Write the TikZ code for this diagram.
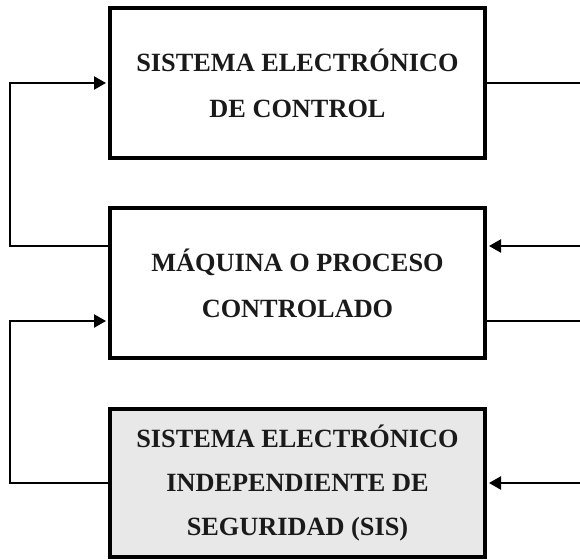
\documentclass[tikz,border=0pt]{standalone}
\usepackage{fontspec}
\setmainfont{Liberation Serif}
\usetikzlibrary{arrows.meta}
\definecolor{boxgray}{HTML}{E8E8E8}
\definecolor{txt}{HTML}{1A1A1A}
\begin{document}
\begin{tikzpicture}[x=1pt,y=-1pt,
  blk/.style={draw=black, line width=4pt, minimum width=375pt, inner sep=0pt,
    align=center, text=txt, font=\bfseries\fontsize{26.3}{46}\selectfont},
  conn/.style={line width=2.3pt},
  arr/.style={conn, -{Triangle[length=12pt,width=13pt]}, shorten >=2pt}]
\useasboundingbox (0,0) rectangle (580,559);
\node[blk, minimum height=150pt] (top) at (297.5,83) {SISTEMA ELECTRÓNICO\\DE CONTROL};
\node[blk, minimum height=150pt] (mid) at (297.5,283) {MÁQUINA O PROCESO\\CONTROLADO};
\node[blk, minimum height=148pt, fill=boxgray, font=\bfseries\fontsize{26.3}{44}\selectfont] (bot) at (297.5,483) {SISTEMA ELECTRÓNICO\\INDEPENDIENTE DE\\SEGURIDAD (SIS)};
\coordinate (L1) at (10,83);
\coordinate (L2) at (10,246);
\coordinate (L3) at (10,321);
\coordinate (L4) at (10,483);
\coordinate (R1) at (582,83);
\coordinate (R2) at (582,246);
\coordinate (R3) at (582,321);
\coordinate (R4) at (582,483);
\draw[arr] (mid.west |- L2) -- (L2) -- (L1) -- (top.west);
\draw[conn] (top.east) -- (R1);
\draw[arr] (R2) -- (mid.east |- R2);
\draw[conn] (mid.east |- R3) -- (R3);
\draw[arr] (R4) -- (bot.east);
\draw[arr] (bot.west) -- (L4) -- (L3) -- (mid.west |- L3);
\end{tikzpicture}
\end{document}
